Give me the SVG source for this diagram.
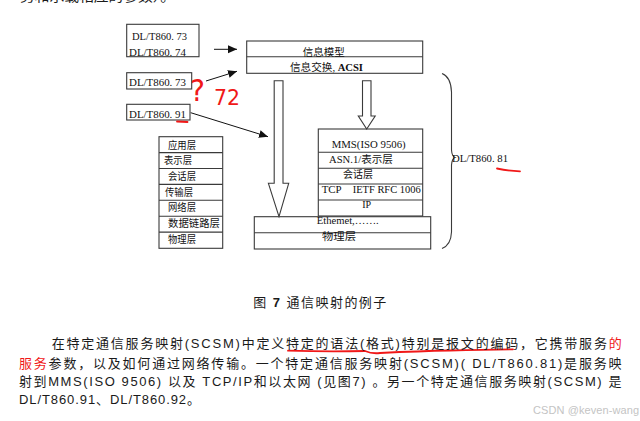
<svg xmlns="http://www.w3.org/2000/svg" width="640" height="421" viewBox="0 0 640 421">
<defs>
<style>
.bx{fill:#fff;stroke:#3a3a3a;stroke-width:1.1}
.ln{stroke:#3a3a3a;stroke-width:1.1;fill:none}
.t{font-family:"Liberation Serif","Noto Sans CJK SC",serif;font-size:10px;fill:#111}
.b{font-family:"Liberation Sans","Noto Sans CJK SC",sans-serif;font-size:13px;fill:#1a1a1a}
.red{fill:#f01818}
.rs{stroke:#f01818;stroke-width:1.8;fill:none;stroke-linecap:round}
.ar{stroke:#111;stroke-width:1;fill:none}
</style>
<marker id="ah" markerWidth="10" markerHeight="10" refX="9" refY="5" orient="auto" markerUnits="userSpaceOnUse">
<path d="M0,1 L9,5 L0,9 z" fill="#111"/>
</marker>
</defs>
<rect width="640" height="421" fill="#fff"/>
<text class="b" x="20" y="0.5" textLength="155" lengthAdjust="spacingAndGlyphs">务和承载相应的参数）。</text>

<g id="box-7374">
<rect class="bx" x="126.7" y="24.3" width="72.3" height="32.4"/>
<text class="t" x="132" y="40" textLength="55" lengthAdjust="spacingAndGlyphs">DL/T860. 73</text>
<text class="t" x="129" y="55.5" textLength="57" lengthAdjust="spacingAndGlyphs">DL/T860. 74</text>
</g>
<g id="box-73">
<rect class="bx" x="126.7" y="72.7" width="65" height="16.3"/>
<text class="t" x="129" y="86" textLength="57" lengthAdjust="spacingAndGlyphs">DL/T860. 73</text>
</g>
<g id="box-91">
<rect class="bx" x="126.7" y="104.3" width="63.3" height="15.7"/>
<text class="t" x="129" y="117.5" textLength="57" lengthAdjust="spacingAndGlyphs">DL/T860. 91</text>
</g>

<g id="info-model">
<rect class="bx" x="246.7" y="41" width="176" height="32.3"/>
<line class="ln" x1="246.7" y1="56.7" x2="422.7" y2="56.7"/>
<text class="t" x="302.7" y="55.5" textLength="42" lengthAdjust="spacingAndGlyphs">信息模型</text>
<text class="t" x="290" y="70.5" textLength="73" lengthAdjust="spacingAndGlyphs">信息交换, <tspan font-weight="bold">ACSI</tspan></text>
</g>

<g id="osi-stack">
<rect class="bx" x="159" y="136.7" width="63.7" height="111.6"/>
<path class="ln" d="M159 152.6H222.7M159 168.5H222.7M159 184.4H222.7M159 200.3H222.7M159 216.2H222.7M159 232.1H222.7"/>
<text class="t" x="168" y="148.5" textLength="28" lengthAdjust="spacingAndGlyphs">应用层</text>
<text class="t" x="164" y="163.5" textLength="28" lengthAdjust="spacingAndGlyphs">表示层</text>
<text class="t" x="168" y="179.5" textLength="28" lengthAdjust="spacingAndGlyphs">会话层</text>
<text class="t" x="165" y="195.5" textLength="28" lengthAdjust="spacingAndGlyphs">传输层</text>
<text class="t" x="168" y="211" textLength="28" lengthAdjust="spacingAndGlyphs">网络层</text>
<text class="t" x="168" y="227" textLength="52" lengthAdjust="spacingAndGlyphs">数据链路层</text>
<text class="t" x="168" y="243" textLength="28" lengthAdjust="spacingAndGlyphs">物理层</text>
</g>

<g id="mms-stack">
<rect class="bx" x="318.3" y="129" width="104.4" height="87"/>
<path class="ln" d="M318.3 152.3H422.7M318.3 168.3H422.7M318.3 184H422.7M318.3 200H422.7"/>
<text class="t" x="331.7" y="148" textLength="74" lengthAdjust="spacingAndGlyphs">MMS(ISO 9506)</text>
<text class="t" x="329" y="163.3" textLength="64" lengthAdjust="spacingAndGlyphs">ASN.1/表示层</text>
<text class="t" x="343" y="178.3" textLength="30" lengthAdjust="spacingAndGlyphs">会话层</text>
<text class="t" x="321.7" y="193.3" textLength="20" lengthAdjust="spacingAndGlyphs">TCP</text>
<text class="t" x="352.7" y="193.3" textLength="68" lengthAdjust="spacingAndGlyphs">IETF RFC 1006</text>
<text class="t" x="366.7" y="208.3" text-anchor="middle">IP</text>
</g>

<g id="physical">
<rect class="bx" x="254.3" y="216.7" width="176.4" height="32.3"/>
<line class="ln" x1="254.3" y1="232.7" x2="430.7" y2="232.7"/>
<text class="t" x="316.7" y="224.3" textLength="62" lengthAdjust="spacingAndGlyphs">Ethemet,…….</text>
<text class="t" x="322" y="239.5" textLength="34" lengthAdjust="spacingAndGlyphs">物理层</text>
</g>

<g id="brace">
<path class="ln" d="M442 73.5 Q451 77 451.5 92 L451.5 150 Q452 156.5 455 157.5 Q452 158.5 451.5 165 L451.5 232 Q451 245 442 248.5"/>
<text class="t" x="452" y="161.7" textLength="56" lengthAdjust="spacingAndGlyphs">DL/T860. 81</text>
</g>

<g id="connectors">
<line class="ar" x1="214" y1="49.3" x2="237" y2="49.3" marker-end="url(#ah)"/>
<line class="ar" x1="206" y1="81" x2="237" y2="71.3" marker-end="url(#ah)"/>
<line class="ar" x1="190.7" y1="112.7" x2="268" y2="136.7" marker-end="url(#ah)"/>
<polygon class="bx" points="274.2,80.7 283,80.7 283,183.3 288.7,183.3 279,216.7 268.4,183.3 274.2,183.3"/>
<polygon class="bx" points="362.5,80.7 371,80.7 371,116 375.2,116 366.7,129 358.3,116 362.5,116"/>
</g>

<g id="annotations">
<text class="red" x="190" y="101" font-family="DejaVu Sans, sans-serif" font-size="30" textLength="15" lengthAdjust="spacingAndGlyphs">?</text>
<text class="red" x="214" y="105" font-family="DejaVu Sans, sans-serif" font-size="21" textLength="26" lengthAdjust="spacingAndGlyphs">72</text>
<path class="rs" d="M177 121.5 L187.5 122"/>
<path class="rs" d="M497 168.5 Q508 171 520 171.3"/>
<path class="rs" d="M288 350.7 Q330 352 365 351 Q372 354 380 353 Q420 351 450 350.5 Q485 349.5 513 349.3" stroke-width="1.6"/>
</g>

<text class="b" x="253.3" y="306.5" font-size="12" textLength="133" lengthAdjust="spacing">图 <tspan font-weight="bold">7</tspan> 通信映射的例子</text>

<text class="b" x="51.7" y="348.3" textLength="570" lengthAdjust="spacing">在特定通信服务映射(SCSM)中定义特定的语法(格式)特别是报文的编码，它携带服务<tspan class="red">的</tspan></text>
<text class="b" x="19" y="367.5" textLength="602.5" lengthAdjust="spacing"><tspan class="red">服务</tspan>参数，以及如何通过网络传输。一个特定通信服务映射(SCSM)( DL/T860.81)是服务映</text>
<text class="b" x="19" y="386" textLength="602.5" lengthAdjust="spacing">射到MMS(ISO 9506) 以及 TCP/IP和以太网 (见图7) 。另一个特定通信服务映射(SCSM) 是</text>
<text class="b" x="19" y="404.3" textLength="181" lengthAdjust="spacing">DL/T860.91、DL/T860.92。</text>

<text x="533" y="413.5" font-family="Liberation Sans, sans-serif" font-size="11" fill="#c4c4c4" textLength="106" lengthAdjust="spacing">CSDN @keven-wang</text>
</svg>
